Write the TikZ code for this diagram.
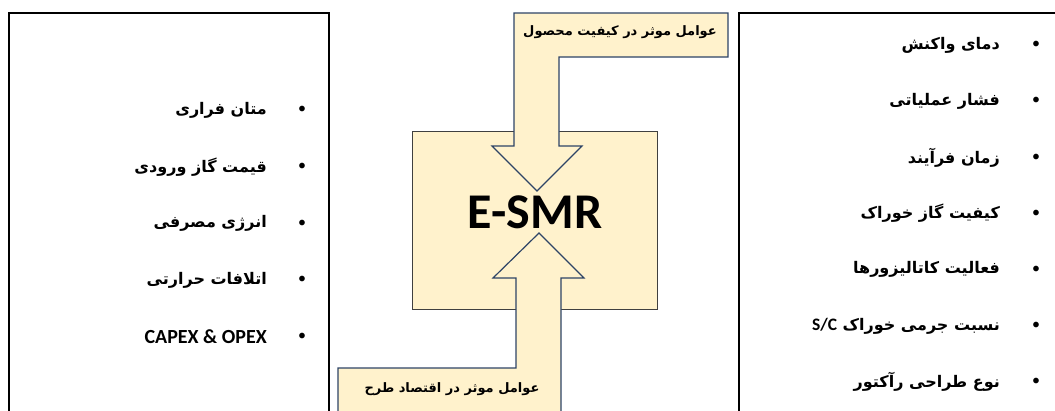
\documentclass[tikz,border=0pt]{standalone}
\usepackage{fontspec}
\TeXXeTstate=1
\newfontfamily\fa[Script=Arabic]{DejaVu Sans}
\newfontfamily\lat{Carlito}
\definecolor{paleyel}{HTML}{FFF2CC}
\definecolor{arrline}{HTML}{2E4466}
\definecolor{boxline}{HTML}{404040}
\tikzset{
  listbox/.style={draw=black, line width=1.1pt, fill=white},
  farsitext/.style={font=\fa\bfseries\fontsize{16}{19}\selectfont, inner sep=0pt, anchor=east},
  bul/.style={font=\lat\fontsize{16}{18}\selectfont, inner sep=0pt},
  calloutshape/.style={draw=arrline, line width=1.2pt, fill=paleyel, line join=miter},
}
\begin{document}
\begin{tikzpicture}[x=1pt,y=-1pt]
\useasboundingbox (0,0) rectangle (1055,410);
\begin{scope}
\clip (0,0) rectangle (1055,410);
% side boxes
\draw[listbox] (9,13) rectangle (329,430);
\draw[listbox] (739,13) rectangle (1080,430);
% center box
\node[draw=boxline, line width=1pt, fill=paleyel, minimum width=245pt, minimum height=178pt, inner sep=0pt] (core) at (534.5,220) {};
% top callout arrow
\draw[calloutshape] (514,13) -- (728,13) -- (728,57) -- (559,57) -- (559,146) -- (582,146) -- (537,191) -- (492,146) -- (514,146) -- cycle;
% bottom callout arrow
\draw[calloutshape] (539,233) -- (584,278) -- (561,278) -- (561,430) -- (338,430) -- (338,368) -- (516,368) -- (516,278) -- (493,278) -- cycle;
\end{scope}
\node[font=\lat\bfseries\fontsize{50}{56}\selectfont, inner sep=0pt] (esmr) at (535,212) {E-SMR};
\node[font=\fa\bfseries\fontsize{13}{16}\selectfont, inner sep=0pt] (toplab) at (620,32) {\beginR عوامل موثر در کیفیت محصول\endR};
\node[font=\fa\bfseries\fontsize{13}{16}\selectfont, inner sep=0pt] (botlab) at (452,389) {\beginR عوامل موثر در اقتصاد طرح\endR};
% right list
\foreach \t [count=\i from 0] in {دمای واکنش, فشار عملیاتی, زمان فرآیند, کیفیت گاز خوراک, فعالیت کاتالیزورها, {نسبت جرمی خوراک \beginL{\lat\bfseries\fontsize{17.5}{20}\selectfont S/C}\endL}, نوع طراحی رآکتور}{
  \node[bul] (rb\i) at (1036,{45+56.2*\i}) {•};
  \node[farsitext] (rt\i) at (1000,{45+56.2*\i}) {\beginR \t\endR};
}
% left list
\foreach \t [count=\i from 0] in {متان فراری, قیمت گاز ورودی, انرژی مصرفی, اتلافات حرارتی}{
  \node[bul] (lb\i) at (302,{110+56.75*\i}) {•};
  \node[farsitext] (lt\i) at (267,{110+56.75*\i}) {\beginR \t\endR};
}
\node[bul] (lb4) at (302,337) {•};
\node[font=\lat\bfseries\fontsize{20}{24}\selectfont, inner sep=0pt, anchor=east] (lt4) at (267,337) {CAPEX \& OPEX};
\end{tikzpicture}
\end{document}
